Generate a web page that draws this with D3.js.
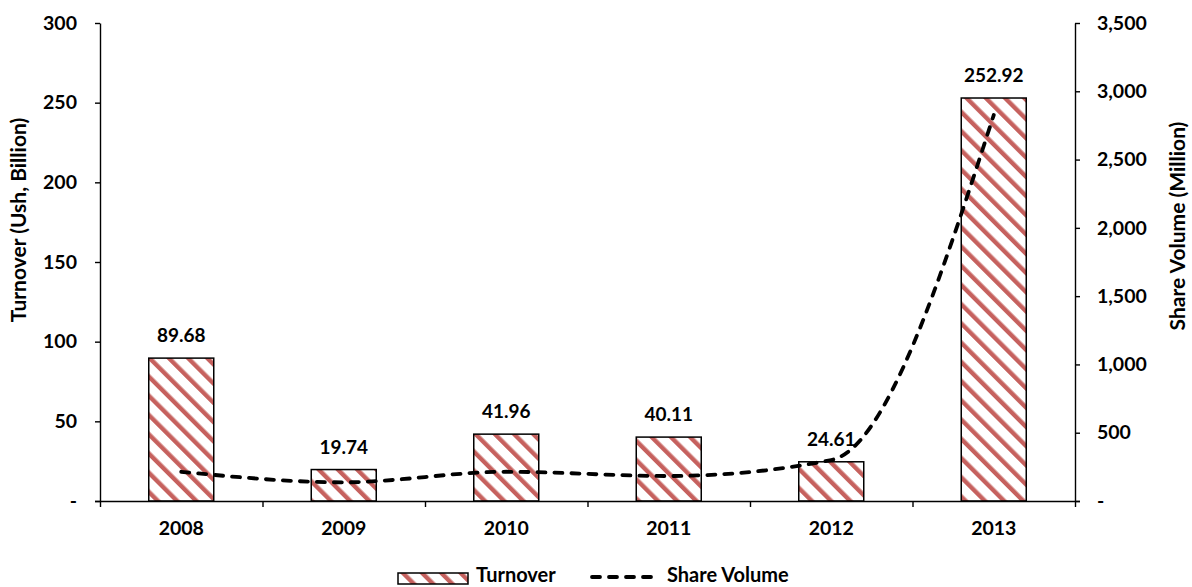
<!DOCTYPE html>
<html>
<head>
<meta charset="utf-8">
<script src="https://cdn.jsdelivr.net/npm/d3@7"></script>
<style>
  html, body { margin: 0; padding: 0; background: #ffffff; }
  svg { display: block; font-family: Lato, "Open Sans", sans-serif; font-weight: bold; }
</style>
</head>
<body>
<svg id="chart" width="1192" height="587"></svg>
<script>
const years = ["2008", "2009", "2010", "2011", "2012", "2013"];
const turnover = [89.68, 19.74, 41.96, 40.11, 24.61, 252.92];
const shareVolume = [214, 137, 214, 183, 300, 2826];
const turnoverTicks = [0, 50, 100, 150, 200, 250, 300];
const volumeTicks = [0, 500, 1000, 1500, 2000, 2500, 3000, 3500];
const turnoverLabels = ["89.68", "19.74", "41.96", "40.11", "24.61", "252.92"];
const leftTitle = "Turnover (Ush, Billion)";
const rightTitle = "Share Volume (Million)";
const legendNames = ["Turnover", "Share Volume"];

const svg = d3.select("#chart");
const m = { left: 100, right: 1075, top: 23, bottom: 501 };
const red = "#c0504d";

const defs = svg.append("defs");
const pat = defs.append("pattern")
  .attr("id", "hatch")
  .attr("patternUnits", "userSpaceOnUse")
  .attr("width", 13.6).attr("height", 13.6)
  .attr("patternTransform", "rotate(-45)");
pat.append("rect").attr("width", 13.6).attr("height", 13.6).attr("fill", "#fff");
pat.append("rect").attr("x", 0).attr("width", 4.4).attr("height", 13.6).attr("fill", red).attr("opacity", 0.9);

const x = d3.scaleBand().domain(years).range([m.left, m.right]).paddingInner(0.6).paddingOuter(0.3);
const yL = d3.scaleLinear().domain([0, 300]).range([m.bottom, m.top]);
const yR = d3.scaleLinear().domain([0, 3500]).range([m.bottom, m.top]);

const fmtL = d => d === 0 ? "-" : d3.format(",")(d);
const fmtR = d => d === 0 ? "-" : d3.format(",")(d);

// bars
svg.append("g").selectAll("rect").data(years).join("rect")
  .attr("x", d => x(d))
  .attr("y", (d, i) => yL(turnover[i]))
  .attr("width", x.bandwidth())
  .attr("height", (d, i) => yL(0) - yL(turnover[i]))
  .attr("fill", "url(#hatch)")
  .attr("stroke", "#000").attr("stroke-width", 1.5);

// data labels
svg.append("g").selectAll("text").data(years).join("text")
  .attr("x", d => x(d) + x.bandwidth() / 2)
  .attr("y", (d, i) => yL(turnover[i]) - 16)
  .attr("text-anchor", "middle")
  .attr("font-size", 19)
  .attr("fill", "#000")
  .text((d, i) => turnoverLabels[i]);

// axes
const gL = svg.append("g").attr("transform", `translate(${m.left},0)`)
  .call(d3.axisLeft(yL).tickValues(turnoverTicks).tickFormat(fmtL).tickSize(5).tickSizeOuter(0).tickPadding(18));
const gR = svg.append("g").attr("transform", `translate(${m.right},0)`)
  .call(d3.axisRight(yR).tickValues(volumeTicks).tickFormat(fmtR).tickSize(5).tickSizeOuter(0).tickPadding(17));
const gX = svg.append("g").attr("transform", `translate(0,${m.bottom})`)
  .call(d3.axisBottom(x).tickSize(0).tickPadding(20));
gX.select(".domain").remove();

[gL, gR, gX].forEach(g => {
  g.attr("font-family", null).attr("font-size", null);
  g.selectAll("text").attr("font-size", 19.5).attr("fill", "#000");
  g.selectAll("line, path").attr("stroke", "#000").attr("stroke-width", 1.4);
});

// x axis line and boundary ticks
const step = x.step();
const x0 = x(years[0]) - (step - x.bandwidth()) / 2;
svg.append("line").attr("x1", m.left - 5).attr("x2", m.right + 5)
  .attr("y1", m.bottom + 0.5).attr("y2", m.bottom + 0.5)
  .attr("stroke", "#000").attr("stroke-width", 1.4);
svg.append("g").selectAll("line").data(d3.range(years.length + 1)).join("line")
  .attr("x1", i => x0 + i * step + 0.5).attr("x2", i => x0 + i * step + 0.5)
  .attr("y1", m.bottom).attr("y2", m.bottom + 6)
  .attr("stroke", "#000").attr("stroke-width", 1.4);

// line
const line = d3.line()
  .x((d, i) => x(years[i]) + x.bandwidth() / 2)
  .y(d => yR(d))
  .curve(d3.curveMonotoneX);
svg.append("path").datum(shareVolume)
  .attr("d", line)
  .attr("fill", "none")
  .attr("stroke", "#000")
  .attr("stroke-width", 3.8)
  .attr("stroke-dasharray", "8,9")
  .attr("stroke-linecap", "round");

// axis titles
svg.append("text")
  .attr("transform", `translate(26,${(m.top + m.bottom) / 2 - 42}) rotate(-90)`)
  .attr("text-anchor", "middle").attr("font-size", 21).attr("fill", "#000")
  .text(leftTitle);
svg.append("text")
  .attr("transform", `translate(1185,${(m.top + m.bottom) / 2 - 36}) rotate(-90)`)
  .attr("text-anchor", "middle").attr("font-size", 21).attr("fill", "#000")
  .text(rightTitle);

// legend
const lg = svg.append("g");
lg.append("rect").attr("x", 398).attr("y", 573).attr("width", 70).attr("height", 11)
  .attr("fill", "url(#hatch)").attr("stroke", "#000").attr("stroke-width", 1.5);
lg.append("text").attr("x", 476).attr("y", 582).attr("font-size", 20).attr("fill", "#000").text(legendNames[0]);
lg.append("line").attr("x1", 592).attr("x2", 656).attr("y1", 577).attr("y2", 577)
  .attr("stroke", "#000").attr("stroke-width", 3.8)
  .attr("stroke-dasharray", "8,9").attr("stroke-linecap", "round");
lg.append("text").attr("x", 667).attr("y", 582).attr("font-size", 20).attr("fill", "#000").text(legendNames[1]);
</script>
</body>
</html>
